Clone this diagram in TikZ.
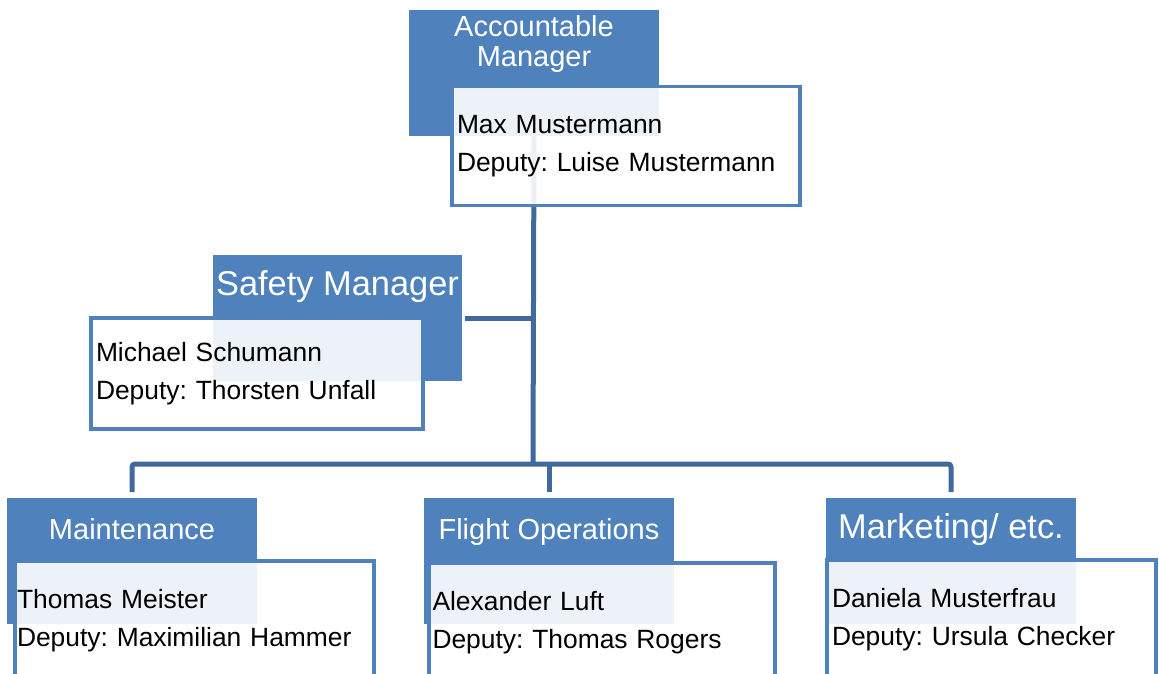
\documentclass[tikz,border=0pt]{standalone}
\usepackage{fontspec}
\setmainfont{Liberation Sans}
\frenchspacing
\definecolor{headblue}{HTML}{4F81BD}
\definecolor{linkblue}{HTML}{41699B}
\tikzset{
  head/.style={fill=headblue, draw=none, minimum width=250pt, minimum height=126pt, inner sep=0pt, outer sep=0pt},
  headtext/.style={text=white, align=center, inner sep=0pt, font=\fontsize{29}{30}\selectfont},
  bighead/.style={headtext, font=\fontsize{34.4}{36}\selectfont},
  card/.style={draw=headblue, line width=3.5pt, fill=white, fill opacity=0.9, text opacity=1,
    inner xsep=5pt, inner ysep=0pt, outer sep=0pt, align=left, font=\fontsize{26.4}{38}\selectfont},
  link/.style={draw=linkblue, line width=5pt}
}
\begin{document}
\begin{tikzpicture}[x=1pt, y=-1pt]
        \useasboundingbox (0,0) rectangle (1159,674);
        \clip (0,0) rectangle (1159,674);

        %heads
        \node[head] (am) at (534,73) {};
        \node[head, minimum width=249pt] (sm) at (337.5,318) {};
        \node[head] (mt) at (132,561) {};
        \node[head] (fo) at (549,561) {};
        \node[head] (mk) at (951,561) {};

        \node[headtext] (amt) at (534,44.5) {Accountable\\Manager};
        \node[bighead, anchor=base] (smt) at (337.5,295) {Safety Manager};
        \node[headtext, anchor=base] (mtt) at (132,539) {Maintenance};
        \node[headtext, anchor=base] (fot) at (549,539) {Flight Operations};
        \node[bighead, anchor=base] (mkt) at (951,538) {Marketing/ etc.};

        %links
        \coordinate (bus) at (533,464);
        \draw[link] (am.south) -- (bus);
        \draw[link] ([xshift=3pt]sm.east) -- (sm.east -| bus);
        \draw[link, rounded corners=3pt] ([yshift=6pt]mt.north) -- (mt.north |- bus) -- (mk.north |- bus) -- ([yshift=6pt]mk.north);
        \draw[link] (fo.north |- bus) -- ([yshift=6pt]fo.north);

        %cards
        \node[card, text width=338pt, minimum height=119pt] (amc) at (626,146)
            {Max Mustermann\\Deputy: Luise Mustermann};
        \node[card, text width=322pt, minimum height=111pt] (smc) at (257,373.5)
            {Michael Schumann\\Deputy: Thorsten Unfall};
        \node[card, inner xsep=2pt, text width=355pt, minimum height=119pt] (mtc) at (194.5,620.5)
            {Thomas Meister\\Deputy: Maximilian Hammer};
        \node[card, inner xsep=3.5pt, text width=339pt, minimum height=119pt] (foc) at (602,622.5)
            {Alexander Luft\\Deputy: Thomas Rogers};
        \node[card, text width=319pt, minimum height=119pt] (mkc) at (991.5,619.5)
            {Daniela Musterfrau\\Deputy: Ursula Checker};
    \end{tikzpicture}
\end{document}
